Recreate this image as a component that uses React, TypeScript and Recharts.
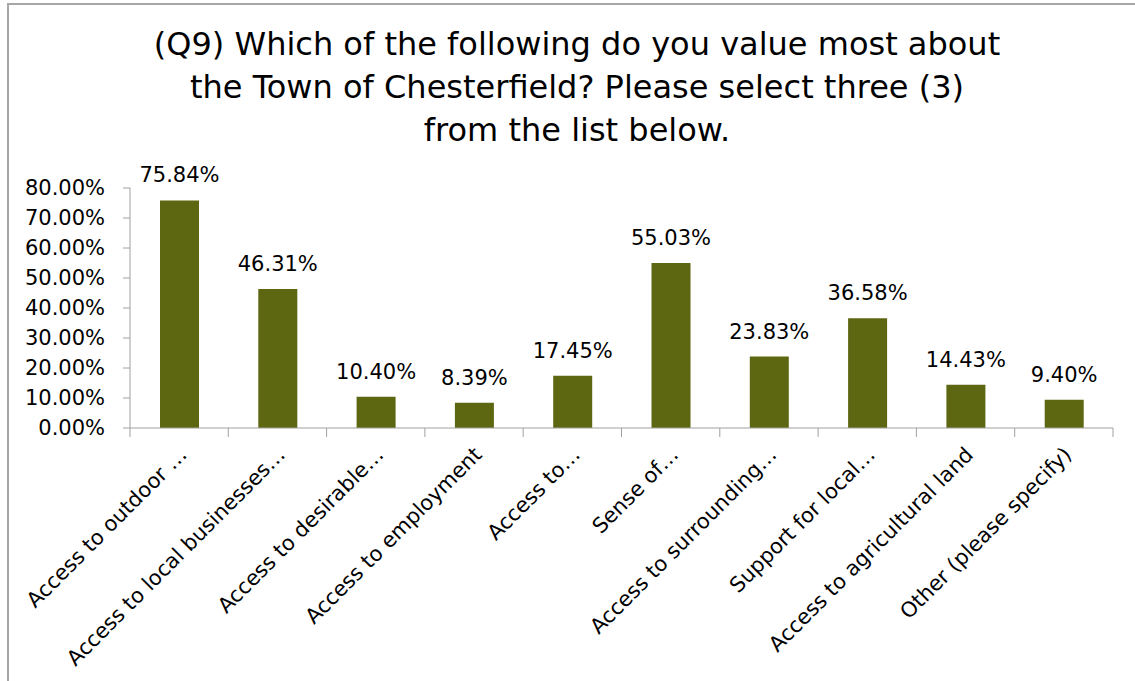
import { Bar, BarChart, LabelList, XAxis, YAxis } from "recharts";

const categories = [
  "Access to outdoor …",
  "Access to local businesses…",
  "Access to desirable…",
  "Access to employment",
  "Access to…",
  "Sense of…",
  "Access to surrounding…",
  "Support for local…",
  "Access to agricultural land",
  "Other (please specify)",
];

const shares = [75.84, 46.31, 10.4, 8.39, 17.45, 55.03, 23.83, 36.58, 14.43, 9.4];

const yTicks = [0, 10, 20, 30, 40, 50, 60, 70, 80];

const titleLines = [
  "(Q9) Which of the following do you value most about",
  "the Town of Chesterfield? Please select three (3)",
  "from the list below.",
];

const data = categories.map((name, i) => ({ name, value: shares[i] }));

const FONT = '"DejaVu Sans", sans-serif';
const AXIS_GREY = "#a0a0a0";

function pct(v: number) {
  return `${Number(v).toFixed(2)}%`;
}

function CategoryTick(props: any) {
  const { x, y, payload, index, visibleTicksCount } = props;
  const half = payload?.offset ?? 49.15;
  const last = index === visibleTicksCount - 1;
  return (
    <g>
      <line x1={x - half} y1={y} x2={x - half} y2={y + 9} stroke={AXIS_GREY} />
      {last && (
        <line x1={x + half} y1={y} x2={x + half} y2={y + 9} stroke={AXIS_GREY} />
      )}
      <text
        transform={`translate(${x + 9},${y + 28}) rotate(-45)`}
        textAnchor="end"
        fontSize={21}
        fontFamily={FONT}
        fill="#000"
      >
        {payload.value}
      </text>
    </g>
  );
}

export default function App() {
  return (
    <div
      style={{
        position: "absolute",
        left: 0,
        top: 0,
        width: 1135,
        height: 681,
        overflow: "hidden",
        background: "#fff",
      }}
    >
      <div
        style={{
          position: "absolute",
          left: 7,
          top: 3,
          width: 1200,
          height: 800,
          border: "2px solid #a6a6a6",
        }}
      />
      <div
        style={{
          position: "absolute",
          left: 0,
          top: 23,
          width: 1154,
          textAlign: "center",
          fontFamily: FONT,
          fontSize: 32,
          lineHeight: "43px",
          color: "#000",
        }}
      >
        {titleLines.map((line) => (
          <div key={line}>{line}</div>
        ))}
      </div>
      <div style={{ position: "absolute", left: 0, top: 0 }}>
        <BarChart
          width={1135}
          height={681}
          data={data}
          margin={{ top: 188, right: 22, left: 0, bottom: 0 }}
        >
          <XAxis
            dataKey="name"
            interval={0}
            height={253}
            stroke={AXIS_GREY}
            tickLine={false}
            tickSize={0}
            tickMargin={0}
            tick={<CategoryTick />}
          />
          <YAxis
            width={130}
            domain={[0, 80]}
            ticks={yTicks}
            tickFormatter={pct}
            stroke={AXIS_GREY}
            tickSize={7}
            tickMargin={18}
            tick={{ fill: "#000", fontSize: 21, fontFamily: FONT }}
          />
          <Bar dataKey="value" fill="#5d6611" barSize={39} isAnimationActive={false}>
            <LabelList
              dataKey="value"
              position="top"
              offset={18}
              formatter={pct}
              style={{ fill: "#000", fontSize: 21, fontFamily: FONT }}
            />
          </Bar>
        </BarChart>
      </div>
    </div>
  );
}
